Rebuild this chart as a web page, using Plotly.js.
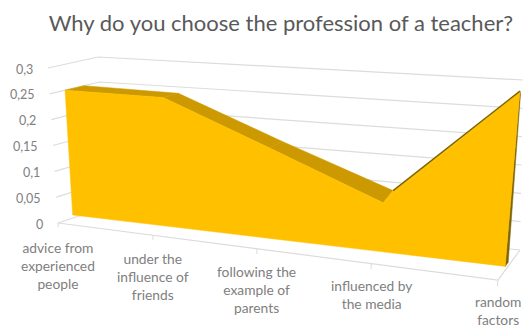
<!DOCTYPE html>
<html>
<head>
<meta charset="utf-8">
<script src="https://cdn.plot.ly/plotly-3.0.1.min.js"></script>
<style>html,body{margin:0;padding:0;background:#fff}#chart{width:527px;height:327px}</style>
</head>
<body>
<div id="chart"></div>
<script>
const categories = [
  "advice from<br>experienced<br>people",
  "under the<br>influence of<br>friends",
  "following the<br>example of<br>parents",
  "influenced by<br>the media",
  "random<br>factors"
];
const shares = [0.25, 0.237, 0.155, 0.08, 0.25];
const axisValues = [0, 0.05, 0.1, 0.15, 0.2, 0.25, 0.3];
const axisLabels = ["0", "0,05", "0,1", "0,15", "0,2", "0,25", "0,3"];

const GOLD = "#FFC000", GOLD_TOP = "#CC9A00", GOLD_EDGE = "#7D6508";
const GRID = "#DCDCDC", TEXT = "#808080", TITLE = "#595959";
const FONT = "Lato, 'Open Sans', sans-serif";

// Box corners of the oblique 3D view: [front/back][left/right][floor/top of axis]
const corners = {
  fl0: [58, 223], flt: [48, 68], bl0: [106, 207], blt: [98, 57],
  fr0: [498, 280], frt: [523, 44], br0: [520, 250], brt: [523, 80]
};
const VMAX = 0.3, LAST = categories.length - 1;
const FORESHORTEN = 0.825;   // categories spread out toward the viewer on the right
const FRONT = 0.31, BACK = 0.69, SIDE = 0.45; // slab depth inside the box
const BASE = 0.006;          // slab sits just above the floor

const lerp = (a, b, k) => a + (b - a) * k;
const lerp2 = (a, b, k) => [lerp(a[0], b[0], k), lerp(a[1], b[1], k)];

// Maps (category index, value, depth) to plot coordinates
function project(i, v, d) {
  const u = i / LAST;
  const t = u * FORESHORTEN / (1 + (FORESHORTEN - 1) * u);
  const h = v / VMAX, c = corners;
  const left = lerp2(lerp2(c.fl0, c.flt, h), lerp2(c.bl0, c.blt, h), d);
  const right = lerp2(lerp2(c.fr0, c.frt, h), lerp2(c.br0, c.brt, h), d);
  return lerp2(left, right, t);
}
// The rear edge of the slab reads higher the further it runs from the left wall
const rearEdge = (i, v) =>
  project(i, v + 0.012 * (1 - v / 0.25) + (i > 0 ? 0.004 : 0), BACK);

function polyline(points, color, width) {
  return {
    type: "scatter", mode: "lines", hoverinfo: "skip", showlegend: false,
    x: points.map(p => p[0]), y: points.map(p => p[1]),
    line: {color: color, width: width, simplify: false}
  };
}
function polygon(points, color) {
  const pts = points.concat([points[0]]);
  return {
    type: "scatter", mode: "lines", fill: "toself", fillcolor: color,
    hoverinfo: "skip", showlegend: false,
    x: pts.map(p => p[0]), y: pts.map(p => p[1]),
    line: {color: color, width: 0.5, simplify: false}
  };
}

const traces = [];

// Gridlines along the left and back walls
axisValues.forEach(v => {
  traces.push(polyline([project(0, v, 0), project(0, v, 1), project(LAST, v, 1)], GRID, 1.2));
});
// Floor outline and category ticks
traces.push(polyline([project(0, 0, 0), project(LAST, 0, 0), project(LAST, 0, 1)], GRID, 1.2));
categories.forEach((_, i) => {
  traces.push(polyline([project(i, 0, 0), project(i, -0.008, 0)], GRID, 1));
});

// Sloped upper faces of the slab
for (let i = 0; i < LAST - 1; i++) {
  traces.push(polygon([
    project(i, shares[i], FRONT), project(i + 1, shares[i + 1], FRONT),
    rearEdge(i + 1, shares[i + 1]), rearEdge(i, shares[i])
  ], GOLD_TOP));
}
// Right end of the slab
traces.push(polygon([
  project(LAST, shares[LAST], FRONT), project(LAST, BASE, FRONT),
  project(LAST, BASE, SIDE), project(LAST, shares[LAST], SIDE)
], GOLD_EDGE));

// Front face
const frontTop = shares.map((v, i) => project(i, v, FRONT));
const frontBottom = shares.map((_, i) => project(i, BASE, FRONT)).reverse();
traces.push(polygon(frontTop.concat(frontBottom), GOLD));

// Rising section seen nearly edge-on
const valley = LAST - 1;
const valleyBack = rearEdge(valley, shares[valley]);
traces.push(polygon([frontTop[valley], valleyBack, frontTop[LAST]], GOLD));
traces.push(polyline([valleyBack, frontTop[LAST]], GOLD_EDGE, 1.4));

const annotations = [];
axisValues.forEach((v, k) => {
  const p = project(0, v, 0);
  annotations.push({
    x: p[0], y: p[1], xref: "x", yref: "y", text: axisLabels[k], showarrow: false,
    xanchor: "right", yanchor: "middle", xshift: -13, yshift: -1,
    font: {family: FONT, size: 12.5, color: TEXT}
  });
});
categories.forEach((c, i) => {
  const p = project(i, 0, 0);
  annotations.push({
    x: p[0], y: p[1], xref: "x", yref: "y", text: c, showarrow: false,
    xanchor: "center", yanchor: "top", yshift: -13.5 + i * 0.6, align: "center",
    font: {family: FONT, size: 13.8, color: TEXT}
  });
});

const layout = {
  width: 527, height: 327,
  margin: {l: 0, r: 0, t: 0, b: 0},
  paper_bgcolor: "#fff", plot_bgcolor: "#fff",
  showlegend: false,
  title: {
    text: "Why do you choose the profession of a teacher?",
    x: 0.533, xanchor: "center", y: 0.928, yanchor: "middle",
    font: {family: FONT, size: 22, color: TITLE}
  },
  xaxis: {range: [0, 527], visible: false, fixedrange: true},
  yaxis: {range: [327, 0], visible: false, fixedrange: true},
  annotations: annotations
};

Plotly.newPlot("chart", traces, layout, {staticPlot: true, displayModeBar: false});
</script>
</body>
</html>
